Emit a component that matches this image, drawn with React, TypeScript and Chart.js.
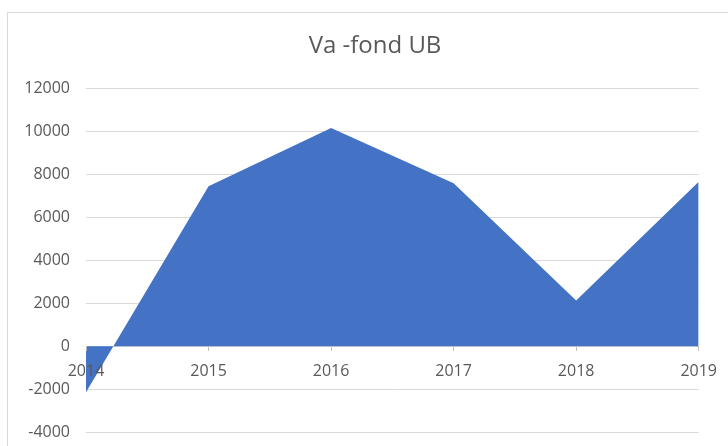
import React, { useEffect, useRef } from "react";
import { Chart, registerables } from "chart.js";

Chart.register(...registerables);

const years = ["2014", "2015", "2016", "2017", "2018", "2019"];
const values = [-2130, 7430, 10140, 7570, 2130, 7640];
const yMin = -4000;
const yMax = 12000;
const yStep = 2000;
const titleText = "Va -fond UB";

const titlePlugin = {
  id: "customTitle",
  afterDraw(chart: any) {
    const ctx = chart.ctx;
    ctx.save();
    ctx.fillStyle = "#595959";
    ctx.font = "24px 'Open Sans'";
    ctx.textAlign = "center";
    ctx.textBaseline = "middle";
    ctx.fillText(titleText, 375, 46);
    ctx.restore();
  },
};

export default function App() {
  const ref = useRef<HTMLCanvasElement | null>(null);

  useEffect(() => {
    document.body.style.margin = "0";
    document.body.style.overflow = "hidden";
    const canvas = ref.current;
    if (!canvas) return;
    const chart = new Chart(canvas, {
      type: "line",
      data: {
        labels: years,
        datasets: [
          {
            data: values,
            fill: "origin",
            backgroundColor: "#4472C4",
            borderColor: "#4472C4",
            borderWidth: 0,
            pointRadius: 0,
            tension: 0,
          },
        ],
      },
      plugins: [titlePlugin],
      options: {
        responsive: false,
        animation: false,
        layout: { padding: { left: 0, right: 28, top: 88, bottom: 4 } },
        plugins: {
          legend: { display: false },
          tooltip: { enabled: false },
          title: { display: false },
        },
        scales: {
          x: {
            position: { y: 0 } as any,
            offset: false,
            grid: {
              display: true,
              drawOnChartArea: false,
              drawTicks: true,
              tickLength: 5,
              color: "#bfbfbf",
              z: 1,
            },
            border: { display: false },
            ticks: {
              color: "#595959",
              font: { family: "Open Sans", size: 16 },
              padding: 11,
              maxRotation: 0,
              z: 1,
            },
          },
          y: {
            min: yMin,
            max: yMax,
            afterFit: (scale: any) => {
              scale.width = 86;
            },
            grid: { color: "#d9d9d9", drawTicks: false },
            border: { display: false },
            ticks: {
              stepSize: yStep,
              color: "#595959",
              font: { family: "Open Sans", size: 16 },
              padding: 16,
              callback: (v: any) => String(v),
            },
          },
        },
      },
    });
    return () => chart.destroy();
  }, []);

  return (
    <div style={{ position: "fixed", left: 0, top: 0, width: 728, height: 446, overflow: "hidden", background: "#fff" }}>
      <div
        style={{
          position: "absolute",
          left: 7,
          top: 12,
          width: 760,
          height: 480,
          border: "1px solid #d9d9d9",
          boxSizing: "border-box",
        }}
      />
      <canvas ref={ref} width={728} height={458} style={{ position: "absolute", left: 0, top: 0 }} />
    </div>
  );
}
